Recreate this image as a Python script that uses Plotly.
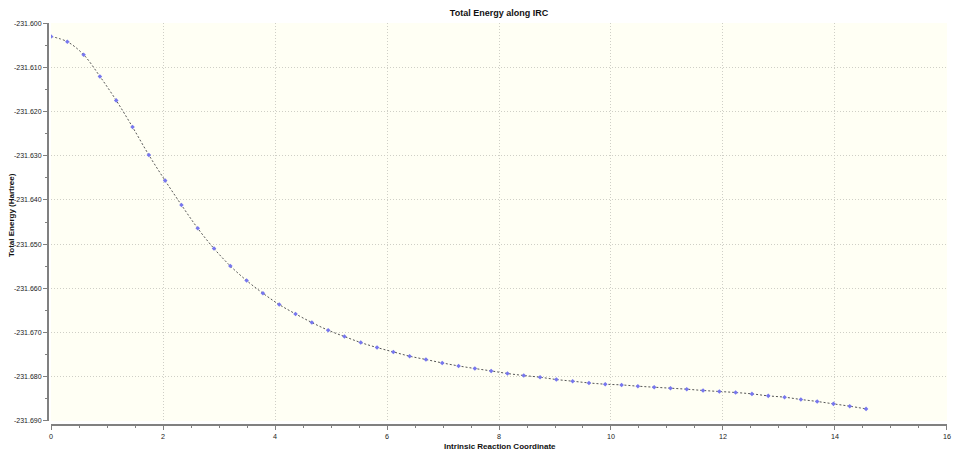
import plotly.graph_objects as go

irc_coord = [0.000, 0.291, 0.582, 0.873, 1.164, 1.456, 1.747, 2.038, 2.329, 2.620,
             2.911, 3.202, 3.493, 3.784, 4.075, 4.367, 4.658, 4.949, 5.240, 5.531,
             5.822, 6.113, 6.404, 6.695, 6.986, 7.278, 7.569, 7.860, 8.151, 8.442,
             8.733, 9.024, 9.315, 9.606, 9.897, 10.189, 10.480, 10.771, 11.062, 11.353,
             11.644, 11.935, 12.226, 12.517, 12.808, 13.100, 13.391, 13.682, 13.973, 14.264,
             14.555]
total_energy = [-231.60299, -231.60419, -231.60713, -231.61204, -231.61747, -231.62351,
                -231.62984, -231.63563, -231.64115, -231.64643, -231.65102, -231.65495,
                -231.65826, -231.66113, -231.66369, -231.66581, -231.66776, -231.66950,
                -231.67093, -231.67229, -231.67342, -231.67441, -231.67538, -231.67613,
                -231.67690, -231.67758, -231.67817, -231.67871, -231.67930, -231.67975,
                -231.68014, -231.68066, -231.68104, -231.68143, -231.68172, -231.68188,
                -231.68217, -231.68240, -231.68262, -231.68285, -231.68314, -231.68337,
                -231.68360, -231.68391, -231.68436, -231.68466, -231.68518, -231.68563,
                -231.68617, -231.68670, -231.68731]

x_tick_vals = [0, 2, 4, 6, 8, 10, 12, 14, 16]
x_tick_text = ["0", "2", "4", "6", "8", "10", "12", "14", "16"]
y_tick_vals = [-231.600, -231.610, -231.620, -231.630, -231.640, -231.650,
               -231.660, -231.670, -231.680, -231.690]
y_tick_text = ["-231.600", "-231.610", "-231.620", "-231.630", "-231.640", "-231.650",
               "-231.660", "-231.670", "-231.680", "-231.690"]

title_text = "Total Energy along IRC"
x_title = "Intrinsic Reaction Coordinate"
y_title = "Total Energy (Hartree)"

FONT = "Liberation Sans"
W, H = 954, 450
ML, MR, MT, MB = 48, 7, 23, 25
PW, PH = W - ML - MR, H - MT - MB

fig = go.Figure()
fig.add_trace(go.Scatter(
    x=irc_coord, y=total_energy, mode="lines+markers",
    line=dict(color="#555555", width=1, dash="2px,2px", shape="spline"),
    marker=dict(symbol="diamond", size=3.5, color="#7777ee"),
    showlegend=False,
))

grid = dict(showgrid=True, gridcolor="#cfcfc6", griddash="1px,2px", gridwidth=1)

fig.update_layout(
    width=W, height=H,
    margin=dict(l=ML, r=MR, t=MT, b=MB, autoexpand=False),
    paper_bgcolor="white",
    plot_bgcolor="#fffff4",
    title=dict(text="<b>" + title_text + "</b>", x=(51 + 947) / 2 / W, xanchor="center",
               y=1 - 13 / H, yanchor="middle",
               font=dict(family=FONT, size=9, color="#111111")),
    font=dict(family=FONT, size=7, color="#222222"),
    xaxis=dict(
        range=[-0.0005, 16.0005], domain=[3 / PW, 1],
        tickmode="array", tickvals=x_tick_vals, ticktext=x_tick_text,
        anchor="free", position=0, automargin=False,
        showline=True, linecolor="#808080", linewidth=2,
        ticks="outside", ticklen=4, tickcolor="#808080", tickwidth=1,
        minor=dict(dtick=0.5, tick0=0, ticks="outside", ticklen=2, tickcolor="#808080", showgrid=False),
        tickfont=dict(size=7.2),
        zeroline=False, **grid,
    ),
    yaxis=dict(
        range=[-231.69005, -231.59995], domain=[4 / PH, 1],
        tickmode="array", tickvals=y_tick_vals, ticktext=y_tick_text,
        anchor="free", position=0, automargin=False,
        showline=True, linecolor="#808080", linewidth=2,
        ticks="outside", ticklen=4, tickcolor="#808080", tickwidth=1,
        minor=dict(dtick=0.005, tick0=-231.69, ticks="outside", ticklen=2, tickcolor="#808080", showgrid=False),
        tickfont=dict(size=7),
        zeroline=False, **grid,
    ),
    annotations=[
        dict(text="<b>" + x_title + "</b>", xref="paper", yref="paper",
             x=(500 - ML) / PW, y=-(446 - (H - MB)) / PH, xanchor="center", yanchor="middle",
             showarrow=False, font=dict(family=FONT, size=8, color="#111111")),
        dict(text="<b>" + y_title + "</b>", xref="paper", yref="paper", textangle=-90,
             x=(11 - ML) / PW, y=((H - MB) - 215) / PH, xanchor="center", yanchor="middle",
             showarrow=False, font=dict(family=FONT, size=8, color="#111111")),
    ],
)

fig.write_html("out.html", config={"displayModeBar": False},
               post_script="document.body.style.margin='0';document.body.style.padding='0';")
